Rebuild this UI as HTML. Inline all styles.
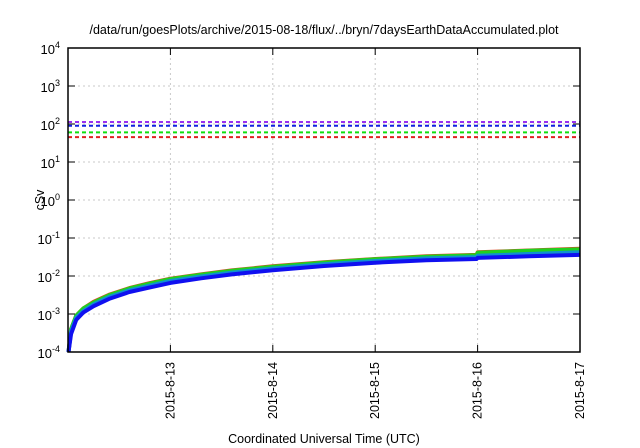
<!DOCTYPE html>
<html><head><meta charset="utf-8"><style>
body{margin:0;background:#fff;}
svg{display:block;font-family:"Liberation Sans",sans-serif;}
</style></head><body>
<svg id="chart" width="640" height="448">
<text x="324" y="34" text-anchor="middle" font-size="12.5">/data/run/goesPlots/archive/2015-08-18/flux/../bryn/7daysEarthDataAccumulated.plot</text>
<text x="0" y="0" transform="translate(44,200) rotate(-90)" text-anchor="middle" font-size="12.5">cSv</text>
<text x="324" y="443" text-anchor="middle" font-size="12.5">Coordinated Universal Time (UTC)</text>
<g id="grid"></g><g id="series"></g><g id="axes"></g>
</svg>
<script>
const yExponents=[-4,-3,-2,-1,0,1,2,3,4];
const xTickDays=[1,2,3,4,5];
const xTickLabels=["2015-8-13","2015-8-14","2015-8-15","2015-8-16","2015-8-17"];
const thresholdValues=[113,90,60,45];
const thresholdColors=["#9a30f0","#1020e0","#10e010","#e02020"];
const times=[0.005,0.03,0.08,0.15,0.25,0.4,0.6,0.8,1.0,1.3,1.6,2.0,2.5,3.0,3.5,3.99,4.0,4.5,5.0];
const redValues=[0.0001,0.0004,0.0009,0.0014,0.0021,0.0032,0.0048,0.0065,0.0085,0.011,0.014,0.018,0.023,0.028,0.033,0.036,0.042,0.047,0.052];
const greenValues=[0.0001,0.0004,0.0009,0.0014,0.002,0.0031,0.0047,0.0063,0.0083,0.0108,0.0137,0.0176,0.0225,0.0275,0.032,0.035,0.041,0.046,0.05];
const cyanValues=[0.0001,0.00035,0.0008,0.0012,0.0018,0.0028,0.0042,0.0056,0.0074,0.0097,0.0123,0.0158,0.0203,0.0248,0.029,0.0315,0.034,0.038,0.042];
const blueValues=[0.0001,0.0003,0.0007,0.0011,0.0016,0.0025,0.0038,0.005,0.0066,0.0087,0.011,0.0142,0.0183,0.0224,0.026,0.028,0.03,0.033,0.036];
const L=68,R=580,T=48,B=352;
const xS=d=>L+d*(R-L)/5;
const yS=v=>B-(Math.log10(v)+4)*(B-T)/8;
const NS="http://www.w3.org/2000/svg";
function mk(tag,attrs,parent,text){const e=document.createElementNS(NS,tag);for(const k in attrs)e.setAttribute(k,attrs[k]);if(text!==undefined)e.textContent=text;parent.appendChild(e);return e;}
const grid=document.getElementById('grid'),axes=document.getElementById('axes'),ser=document.getElementById('series');
yExponents.forEach(p=>{const y=yS(Math.pow(10,p));
 if(p>-4&&p<4){const g=mk('line',{x1:L,x2:R,y1:y,y2:y,stroke:'#c8c8c8','stroke-dasharray':'2,3','stroke-width':1},grid);
 
 }
 const t1=mk('line',{x1:L,x2:L+7,y1:y,y2:y,stroke:'#000'},axes);
 
 
 const t2=mk('line',{x1:R-7,x2:R,y1:y,y2:y,stroke:'#000'},axes);
 
 
 const tx=mk('text',{x:L-8,y:y+6,'text-anchor':'end','font-size':13},axes);
 tx.innerHTML='10<tspan dy="-6" font-size="9">'+p+'</tspan>';
 
 
});
xTickDays.forEach((d,i)=>{const x=xS(d);
 if(d<5){const g=mk('line',{x1:x,x2:x,y1:T,y2:B,stroke:'#c8c8c8','stroke-dasharray':'2,3'},grid);
 
 }
 const t=mk('line',{x1:x,x2:x,y1:B,y2:B-7,stroke:'#000'},axes);
 
 
 const t2=mk('line',{x1:x,x2:x,y1:T,y2:T+7,stroke:'#000'},axes);
 
 
 const tx=mk('text',{x:0,y:0,transform:`translate(${x+4},${B+10}) rotate(-90)`,'text-anchor':'end','font-size':12.5},axes,xTickLabels[i]);
 
 
});
const fr=mk('rect',{x:L,y:T,width:R-L,height:B-T,fill:'none',stroke:'#000','stroke-width':1.5},axes);


thresholdValues.forEach((v,i)=>{const y=yS(v);
 const l=mk('line',{x1:L,x2:R,y1:y,y2:y,stroke:thresholdColors[i],'stroke-width':2,'stroke-dasharray':'4,3'},ser);
 
 });
[[redValues,'#e04020',4],[greenValues,'#20d020',4],[cyanValues,'#1090d0',4],[blueValues,'#1010f0',4]].forEach(([vals,c,w])=>{
 const pts=times.map((t,i)=>xS(t).toFixed(1)+','+yS(vals[i]).toFixed(1)).join(' ');
 const p=mk('polyline',{points:pts,fill:'none',stroke:c,'stroke-width':w,'stroke-linejoin':'round'},ser);
 
 });
</script>
</body></html>
